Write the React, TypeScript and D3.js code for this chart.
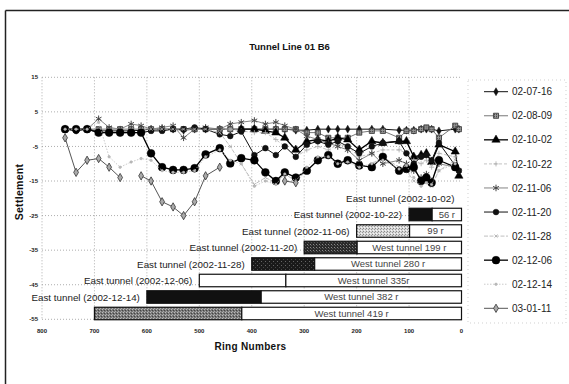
import React from 'react';
import * as d3 from 'd3';

// ---------- data ----------
const rings = [756,735,714,692,672,651,630,611,592,571,550,530,509,488,461,441,420,395,374,354,337,316,295,274,254,236,217,195,171,150,119,105,91,77,67,57,43,12,5];
const N = null;
const s020716 = [0,-0.3,0,-0.5,-0.5,-0.5,-0.5,-0.3,0,0,0,-0.3,0,0,0,0,0,0,0,0,0,-0.3,-0.3,0,0,0,0,0,0,0,-0.3,-0.3,-0.3,0,0,0,-0.5,0,0];
const s020809 = [0,0,0,0,0,0,0,0,0,0,0,0,0,0,0,0,0,0,0,0,0,0,-1,-1,-2.5,-2.5,-2.5,-1,-0.5,-0.5,-2.5,-0.5,-0.5,0,0.5,0,-2.5,1,0];
const s021002 = [N,N,N,N,N,N,N,N,N,N,N,N,N,N,N,N,0,0,-0.5,-1,-2.5,-6,-3.5,-3,-3.5,-2.5,-3,-6,-3.5,-4,-3.5,-3.5,-8,-7.5,-7,-9.5,-4.5,-6.5,-13.5];
const s021022 = [N,N,N,N,N,N,N,N,N,N,N,N,N,N,0,0,-0.5,-1,-1,-3,-5,-8,-6,-5,-6,-4.5,-5,-8,-7,-6,-6,-7,-9,-10,-9,-11,-7,-8,N];
const s021106 = [0,0,0,3,0.5,0,1.5,1,0,0.5,1,-2.5,0,0.5,0,1.5,2,2.5,1.5,2,1,0,-2,-3,-4,-5,-6,-9,-7,-10,-9,-10,-12,-14,-13,-15,-10,-11,-12];
const s021120 = [0,-0.5,0,-1,-1,-1,-1,-1,-0.5,-0.5,0,0,0.5,0,-1.5,-2,-0.7,-7.5,-5.5,-7.5,-5,-8,-4.5,-3.5,-4.5,-3.5,-5,-7,-5,-4,-3.5,-7,-10,-8,-7.5,-9,-4,-10.5,-12];
const s021128 = [0,0,0,0,0,0,0,0,0,0,0,0,0,0,-1,-5,-10,-16,-14,-15.5,-13,-15,-12,-9,-8,-9.5,-9,-11,-10,-8,-11,-12,-15,-16,-15,-16.5,-12,-9,N];
const s021206 = [0,0,0,-1,-1,-1,-1,-1,-7,-11,-11.8,-11.8,-11.3,-7.3,-5.5,-9.9,-8.4,-9,-12.5,-15,-12.5,-14,-12,-9,-7.5,-10,-9,-10.5,-11,-8,-12,-11.5,-11,-15,-14,-15.5,-9,-11,N];
const s021214 = [0,0,0,2,-8,-11,-9.5,-8.5,-9,-12,-12.5,-12.5,-12,-8,-6,-9,-10,-16.5,-15,-16,-13,-15,-11,-8,-8,-10,-9.5,-11,-10,-9,-11.5,-10.5,-14,-16.5,-15.5,-16,-12,-10,N];
const s030111 = [-2.5,-12.5,-9,-8.5,-11,-14,N,-13.5,-15,-21,-22.5,-25,-21,-13.5,-11,N,N,N,N,N,-15,-15.5,N,N,N,N,N,N,N,N,N,N,N,N,N,N,N,N,N];

const seriesNames = ['02-07-16','02-08-09','02-10-02','02-10-22','02-11-06','02-11-20','02-11-28','02-12-06','02-12-14','03-01-11'];
const seriesValues = [s020716,s020809,s021002,s021022,s021106,s021120,s021128,s021206,s021214,s030111];

const yTicks = [15,5,-5,-15,-25,-35,-45,-55];
const xTicks = [800,700,600,500,400,300,200,100,0];

const tunnelDates = ['2002-10-02','2002-10-22','2002-11-06','2002-11-20','2002-11-28','2002-12-06','2002-12-14',''];
const eastRings = [0,100,200,300,400,500,600,700];
const westRings = [0,56,99,199,280,335,382,419];
const westLabels = ['','56 r','99 r','West tunnel 199 r','West tunnel 280 r','West tunnel 335r','West tunnel 382 r','West tunnel 419 r'];

const title = 'Tunnel Line 01 B6';
const xTitle = 'Ring Numbers';
const yTitle = 'Settlement';

// ---------- styles ----------
type St = { stroke: string; width: number; dash?: string; sym: any; area: number; fill: string; mstroke: string; mw: number };
const seriesStyles: St[] = [
  { stroke: '#111', width: 1, sym: d3.symbolDiamond, area: 18, fill: '#111', mstroke: '#111', mw: 0.5 },
  { stroke: '#777', width: 1, sym: d3.symbolSquare, area: 26, fill: 'url(#hatch)', mstroke: '#333', mw: 0.8 },
  { stroke: '#000', width: 1.3, sym: d3.symbolTriangle, area: 30, fill: '#000', mstroke: '#000', mw: 0.5 },
  { stroke: '#b5b5b5', width: 0.8, dash: '3,2', sym: d3.symbolPlus, area: 10, fill: 'none', mstroke: '#aaa', mw: 0.8 },
  { stroke: '#777', width: 0.9, sym: d3.symbolAsterisk, area: 30, fill: 'none', mstroke: '#444', mw: 1 },
  { stroke: '#111', width: 1, sym: d3.symbolCircle, area: 26, fill: '#111', mstroke: '#111', mw: 0.5 },
  { stroke: '#b0b0b0', width: 0.8, dash: '4,1.5', sym: d3.symbolTimes, area: 8, fill: 'none', mstroke: '#aaa', mw: 0.8 },
  { stroke: '#000', width: 1.3, sym: d3.symbolCircle, area: 48, fill: '#000', mstroke: '#000', mw: 0.5 },
  { stroke: '#bdbdbd', width: 0.8, dash: '1.5,1.5', sym: d3.symbolCircle, area: 5, fill: '#bbb', mstroke: '#aaa', mw: 0.5 },
  { stroke: '#555', width: 1, sym: d3.symbolDiamond, area: 20, fill: '#aaa', mstroke: '#333', mw: 0.8 },
];
const eastFills = ['none', '#111', 'url(#lightStip)', 'url(#darkStip)', 'url(#darkStip2)', '#fff', '#111', 'url(#medStip)'];

const FONT = "'Liberation Sans', Arial, sans-serif";

export default function App() {
  const W = 569, H = 384;
  const x = d3.scaleLinear().domain([800, 0]).range([42, 461.5]);
  const y = d3.scaleLinear().domain([15, -55]).range([77.3, 319.3]);
  const rowY = d3.scalePoint<number>().domain(d3.range(tunnelDates.length)).range([198, 313.5]);
  const legY = d3.scalePoint<string>().domain(seriesNames).range([91.7, 308.3]);
  const barH = 12.5;

  const line = d3.line<[number, number | null]>()
    .defined(d => d[1] != null)
    .x(d => x(d[0]))
    .y(d => y(d[1] as number));

  return (
    <svg width={W} height={H} style={{ position: 'fixed', left: 0, top: 0, background: '#fff' }} fontFamily={FONT}>
      <defs>
        <pattern id="hatch" width="2" height="2" patternUnits="userSpaceOnUse">
          <rect width="2" height="2" fill="#999" />
          <rect width="1" height="1" fill="#333" />
        </pattern>
        <pattern id="lightStip" width="3" height="3" patternUnits="userSpaceOnUse">
          <rect width="3" height="3" fill="#d8d8d8" />
          <rect x="0" y="0" width="1" height="1" fill="#888" />
          <rect x="2" y="1" width="1" height="1" fill="#999" />
          <rect x="1" y="2" width="1" height="1" fill="#f5f5f5" />
        </pattern>
        <pattern id="darkStip" width="3" height="3" patternUnits="userSpaceOnUse">
          <rect width="3" height="3" fill="#2a2a2a" />
          <rect x="1" y="1" width="1" height="1" fill="#888" />
          <rect x="2" y="2" width="1" height="1" fill="#555" />
        </pattern>
        <pattern id="darkStip2" width="4" height="4" patternUnits="userSpaceOnUse">
          <rect width="4" height="4" fill="#1a1a1a" />
          <rect x="1" y="1" width="1" height="1" fill="#666" />
          <rect x="3" y="3" width="1" height="1" fill="#444" />
        </pattern>
        <pattern id="medStip" width="3" height="3" patternUnits="userSpaceOnUse">
          <rect width="3" height="3" fill="#777" />
          <rect x="0" y="0" width="1" height="1" fill="#bbb" />
          <rect x="2" y="1" width="1" height="1" fill="#444" />
          <rect x="1" y="2" width="1" height="1" fill="#aaa" />
        </pattern>
      </defs>

      {/* outer frame */}
      <line x1={5.5} x2={W} y1={10.5} y2={10.5} stroke="#222" strokeWidth={1.5} />
      <line x1={5.5} x2={5.5} y1={10.5} y2={H} stroke="#222" strokeWidth={1.5} />

      <text x={289.5} y={50} textAnchor="middle" fontSize={9.5} fontWeight="bold" fill="#111">{title}</text>

      {/* gridlines */}
      {yTicks.map(t => (
        <line key={'gy' + t} x1={x(800)} x2={x(0)} y1={y(t)} y2={y(t)} stroke="#999" strokeWidth={0.8} strokeDasharray="1,2" />
      ))}
      {xTicks.filter(t => t !== 0).map(t => (
        <line key={'gx' + t} x1={x(t)} x2={x(t)} y1={y(15)} y2={y(-55)} stroke="#999" strokeWidth={0.8} strokeDasharray="1,2" />
      ))}

      {/* tick labels */}
      {yTicks.map(t => (
        <text key={'ty' + t} x={38} y={y(t)} dy="0.35em" textAnchor="end" fontSize={6} fontWeight="bold" fill="#222">{t}</text>
      ))}
      {xTicks.map(t => (
        <text key={'tx' + t} x={x(t)} y={333} textAnchor="middle" fontSize={6} fontWeight="bold" fill="#222">{t}</text>
      ))}

      <text x={250.5} y={350} textAnchor="middle" fontSize={10} fontWeight="bold" fill="#111" letterSpacing={0.3}>{xTitle}</text>
      <text transform={`translate(23,192) rotate(-90)`} textAnchor="middle" fontSize={10.5} fontWeight="bold" fill="#111" letterSpacing={0.3}>{yTitle}</text>

      {/* series */}
      {seriesValues.map((vals, i) => {
        const st = seriesStyles[i];
        const pts = rings.map((r, j) => [r, vals[j]] as [number, number | null]);
        const sym = d3.symbol().type(st.sym).size(st.area)();
        return (
          <g key={'s' + i}>
            <path d={line(pts) || ''} fill="none" stroke={st.stroke} strokeWidth={st.width} strokeDasharray={st.dash} />
            {pts.filter(p => p[1] != null).map((p, k) => (
              <path key={k} d={sym || ''} transform={`translate(${x(p[0])},${y(p[1] as number)})`}
                fill={st.fill} stroke={st.mstroke} strokeWidth={st.mw} />
            ))}
          </g>
        );
      })}

      {/* tunnel progress bars */}
      {tunnelDates.map((d, i) => {
        const cy = rowY(i) as number;
        const top = cy - barH / 2;
        const xe = x(eastRings[i]);
        const xw = x(westRings[i]);
        const x0 = x(0);
        return (
          <g key={'row' + i}>
            {eastRings[i] > westRings[i] && (
              <rect x={xe} y={top} width={xw - xe} height={barH} fill={eastFills[i]} stroke="#111" strokeWidth={1.2} />
            )}
            {westRings[i] > 0 && (
              <rect x={xw} y={top} width={x0 - xw} height={barH} fill="#fff" stroke="#111" strokeWidth={1.2} />
            )}
            {westLabels[i] && (
              <text x={(xw + x0) / 2} y={cy} dy="0.36em" textAnchor="middle" fontSize={9.5} fill="#444">{westLabels[i]}</text>
            )}
            {d && (
              <text x={xe - 7} y={cy} dy="0.36em" textAnchor="end" fontSize={9.8} fill="#222">{`East tunnel (${d})`}</text>
            )}
          </g>
        );
      })}

      {/* legend */}
      <rect x={468} y={80} width={98} height={243} fill="none" stroke="#bbb" strokeWidth={0.7} strokeDasharray="1,3" />
      {seriesNames.map((n, i) => {
        const st = seriesStyles[i];
        const cy = legY(n) as number;
        const sym = d3.symbol().type(st.sym).size(st.area)();
        return (
          <g key={'lg' + i}>
            <line x1={484} x2={508} y1={cy} y2={cy} stroke={st.stroke} strokeWidth={st.width} strokeDasharray={st.dash} />
            <path d={sym || ''} transform={`translate(496,${cy})`} fill={st.fill} stroke={st.mstroke} strokeWidth={st.mw} />
            <text x={512} y={cy} dy="0.36em" fontSize={10} fill="#222">{n}</text>
          </g>
        );
      })}
    </svg>
  );
}
